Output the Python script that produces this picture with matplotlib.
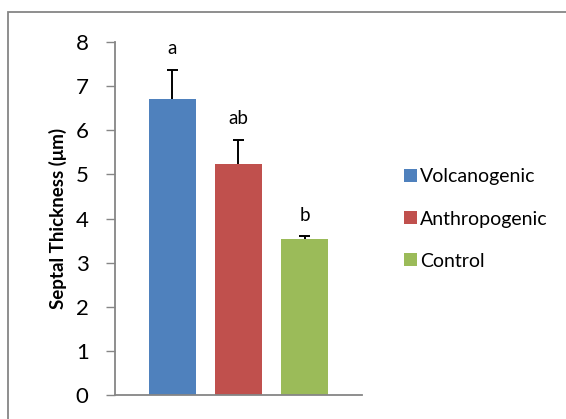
import numpy as np
import matplotlib
matplotlib.use("Agg")
import matplotlib.pyplot as plt
from matplotlib.patches import Rectangle

plt.rcParams['font.family'] = ['Lato', 'DejaVu Sans']

# data
groups = ['Volcanogenic', 'Anthropogenic', 'Control']
means = [6.70, 5.23, 3.53]
errors = [0.67, 0.55, 0.07]
letters = ['a', 'ab', 'b']
colors = ['#4f81bd', '#c0504d', '#9bbb59']
yticks = [0, 1, 2, 3, 4, 5, 6, 7, 8]

fig = plt.figure(figsize=(5.66, 4.19), dpi=100)
ax = fig.add_axes([115 / 566, 24 / 419, 247 / 566, 353 / 419])

x = np.arange(len(groups))
cap = 0.085
for i in range(len(groups)):
    ax.bar(x[i], means[i], width=0.71, color=colors[i], label=groups[i], zorder=2)
    # upper error bar only, no cap at the bar top
    top = means[i] + errors[i]
    ax.vlines(x[i], means[i], top, color='black', linewidth=1.4, zorder=3)
    ax.hlines(top, x[i] - cap, x[i] + cap, color='black', linewidth=1.4, zorder=3)
    ax.annotate(letters[i], (x[i], top), xytext=(0, 9),
                textcoords='offset points', ha='center', va='bottom', fontsize=13.5)

ax.set_xlim(-0.87, 2.87)
ax.set_ylim(0, 8)
ax.set_yticks(yticks)
ax.set_xticks([])
ax.tick_params(axis='y', direction='out', length=6.5, width=1, color='#868686',
               labelsize=16, pad=12.5)
for s in ['top', 'right']:
    ax.spines[s].set_visible(False)
for s in ['left', 'bottom']:
    ax.spines[s].set_color('#868686')
    ax.spines[s].set_linewidth(1.3)
ax.spines['bottom'].set_bounds(-0.87, 2.87)

ax.set_ylabel('Septal Thickness (μm)', fontsize=13.5, fontweight='bold', labelpad=6)

leg = fig.legend(loc='center left', bbox_to_anchor=(386 / 566, 1 - 219 / 419),
                 frameon=False, fontsize=14, handlelength=0.67, handleheight=0.67,
                 handletextpad=0.2, labelspacing=1.29)

# outer chart frame (cut off at right and bottom in the reference)
fig.patches.append(Rectangle((8 / 566, -0.05), 1.0, 1 - 12 / 419 + 0.05,
                             transform=fig.transFigure, fill=False,
                             edgecolor='#868686', linewidth=1.3))

fig.savefig('out.png', dpi=100)
